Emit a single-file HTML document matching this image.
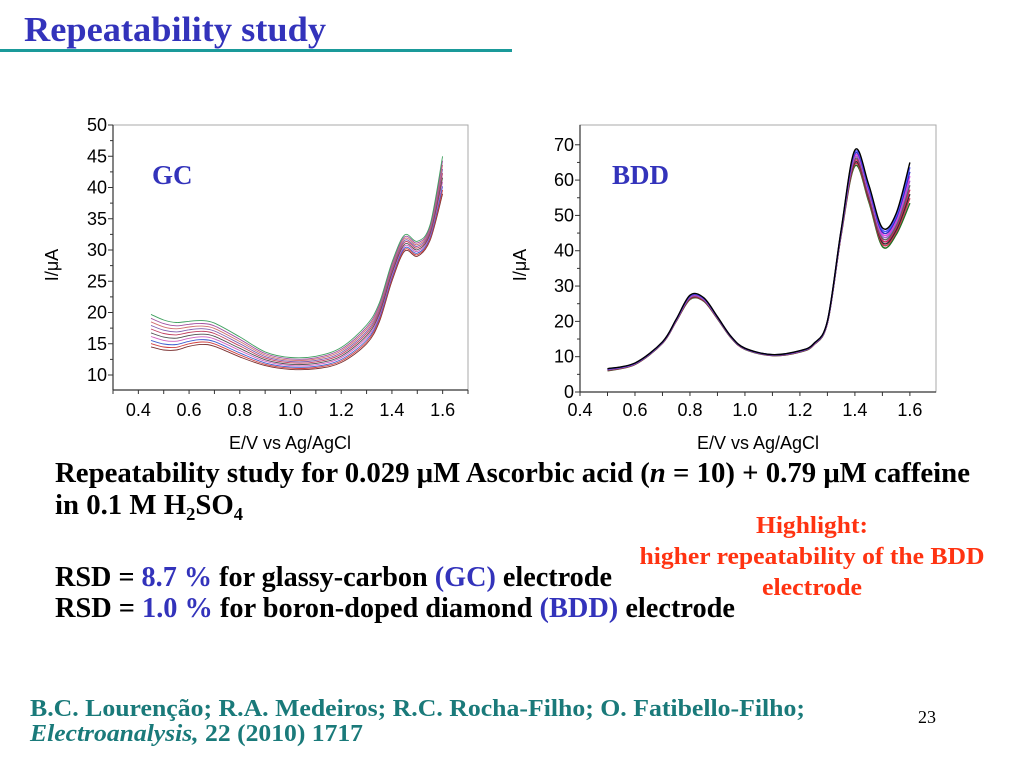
<!DOCTYPE html>
<html><head><meta charset="utf-8"><style>
html,body{margin:0;padding:0;background:#fff;width:1024px;height:768px;overflow:hidden}
svg{display:block}
.ser{font-family:"Liberation Serif",serif;font-weight:bold}
.sans{font-family:"Liberation Sans",sans-serif}
</style></head><body>
<svg id="slide" width="1024" height="768">
<text class="ser" x="24" y="41" font-size="35" fill="#3333bb" textLength="302" lengthAdjust="spacingAndGlyphs">Repeatability study</text>
<rect x="0" y="49" width="512" height="3" fill="#1a9a9a"/>

<g id="gc"></g>
<g id="bdd"></g>

<text class="ser" x="55" y="482" font-size="28" fill="#000" textLength="915" lengthAdjust="spacingAndGlyphs">Repeatability study for 0.029 μM Ascorbic acid (<tspan font-style="italic">n</tspan> = 10) + 0.79 μM caffeine</text>
<text class="ser" x="55" y="514" font-size="28" fill="#000" textLength="188" lengthAdjust="spacingAndGlyphs">in 0.1 M H<tspan font-size="18" dy="6">2</tspan><tspan dy="-6">SO</tspan><tspan font-size="18" dy="6">4</tspan></text>
<text class="ser" x="55" y="586" font-size="28" fill="#000" textLength="557" lengthAdjust="spacingAndGlyphs">RSD = <tspan fill="#3333bb">8.7 %</tspan> for glassy-carbon <tspan fill="#3333bb">(GC)</tspan> electrode</text>
<text class="ser" x="55" y="617" font-size="28" fill="#000" textLength="680" lengthAdjust="spacingAndGlyphs">RSD = <tspan fill="#3333bb">1.0 %</tspan> for boron-doped diamond <tspan fill="#3333bb">(BDD)</tspan> electrode</text>
<g class="ser" font-size="24" fill="#ff3311" text-anchor="middle">
<text x="812" y="533" textLength="112" lengthAdjust="spacingAndGlyphs">Highlight:</text>
<text x="812" y="564" textLength="345" lengthAdjust="spacingAndGlyphs">higher repeatability of the BDD</text>
<text x="812" y="595" textLength="100" lengthAdjust="spacingAndGlyphs">electrode</text>
</g>
<text class="ser" x="30" y="716" font-size="24" fill="#1a7a7a" textLength="775" lengthAdjust="spacingAndGlyphs">B.C. Lourenção; R.A. Medeiros; R.C. Rocha-Filho; O. Fatibello-Filho;</text>
<text class="ser" x="30" y="741" font-size="24" fill="#1a7a7a" textLength="333" lengthAdjust="spacingAndGlyphs"><tspan font-style="italic">Electroanalysis,</tspan> 22 (2010) 1717</text>
<text x="918" y="723" font-family="Liberation Serif,serif" font-size="18" fill="#000">23</text>
</svg>
<script>
// ---- GC data ----
const gcX = [0.45,0.5,0.55,0.6,0.65,0.7,0.8,0.9,1.0,1.1,1.2,1.3,1.35,1.4,1.45,1.5,1.55,1.6];
const gcBase = [14.5,14.0,14.0,14.6,14.9,14.6,12.9,11.5,10.9,11.0,12.0,15.0,18.5,25.0,29.8,29.0,31.5,39.0];
const gcSpread = [5.2,4.8,4.4,4.0,3.8,3.7,3.2,2.2,1.9,2.0,2.4,3.0,3.0,3.0,2.6,2.4,2.5,6.0];
const gcFrac = [0,0.1,0.2,0.32,0.43,0.55,0.66,0.77,0.88,1.0];
const gcYTicks = [10,15,20,25,30,35,40,45,50];
const xTicks = [0.4,0.6,0.8,1.0,1.2,1.4,1.6];
// ---- BDD data ----
const bddX = [0.5,0.6,0.7,0.75,0.8,0.85,0.9,0.95,1.0,1.1,1.2,1.25,1.3,1.35,1.4,1.45,1.5,1.55,1.6];
const bddBase = [6.0,7.8,13.8,20.0,26.2,25.7,20.7,15.3,12.1,10.3,11.3,13.3,19.5,44.5,64.0,54.0,41.2,44.5,53.5];
const bddSpread = [0.6,0.4,0.4,0.6,1.2,1.0,0.6,0.4,0.3,0.3,0.4,0.4,0.6,1.5,4.5,4.8,5.3,6.0,11.5];
const bddFrac = [0,0.12,0.22,0.33,0.44,0.55,0.66,0.77,0.88,1.0];
const bddYTicks = [0,10,20,30,40,50,60,70];
const colorsGC = ['#7a3030','#d04040','#4060d0','#d060c0','#505050','#c04060','#8060b0','#d07070','#a050a0','#40a060'];
const colorsBDD = ['#207020','#d03050','#303030','#d02060','#606060','#a060d0','#e040e0','#3030c0','#5050ff','#000000'];
const NS='http://www.w3.org/2000/svg';
function mk(tag,attrs,parent){const e=document.createElementNS(NS,tag);for(const k in attrs)e.setAttribute(k,attrs[k]);parent.appendChild(e);return e;}
function smooth(pts){let d='M'+pts[0][0].toFixed(1)+','+pts[0][1].toFixed(1);
 for(let i=0;i<pts.length-1;i++){const p0=pts[Math.max(0,i-1)],p1=pts[i],p2=pts[i+1],p3=pts[Math.min(pts.length-1,i+2)];
 d+=' C'+(p1[0]+(p2[0]-p0[0])/6).toFixed(1)+','+(p1[1]+(p2[1]-p0[1])/6).toFixed(1)+' '+(p2[0]-(p3[0]-p1[0])/6).toFixed(1)+','+(p2[1]-(p3[1]-p1[1])/6).toFixed(1)+' '+p2[0].toFixed(1)+','+p2[1].toFixed(1);}
 return d;}
function chart(g,cfg){
 const sx=v=>cfg.x0+(v-cfg.xmin)*(cfg.x1-cfg.x0)/(cfg.xmax-cfg.xmin);
 const sy=v=>cfg.y0-(v-cfg.ymin)*(cfg.y0-cfg.y1)/(cfg.ymax-cfg.ymin);
 let fr=mk('rect',{x:cfg.x0,y:cfg.y1,width:cfg.x1-cfg.x0,height:cfg.y0-cfg.y1,fill:'none',stroke:'#aaa','stroke-width':1},g);
 
 
 let ax=mk('line',{x1:cfg.x0,y1:cfg.y1,x2:cfg.x0,y2:cfg.y0,stroke:'#333','stroke-width':1.2},g);
 
 
 let bx=mk('line',{x1:cfg.x0,y1:cfg.y0,x2:cfg.x1,y2:cfg.y0,stroke:'#333','stroke-width':1.2},g);
 
 
 cfg.yt.forEach((v,i)=>{const y=sy(v);mk('line',{x1:cfg.x0-5,y1:y,x2:cfg.x0,y2:y,stroke:'#333'},g);
  if(i<cfg.yt.length-1){const ym=sy(v+(cfg.yt[1]-cfg.yt[0])/2);mk('line',{x1:cfg.x0-3,y1:ym,x2:cfg.x0,y2:ym,stroke:'#333'},g);}
  const t=mk('text',{x:cfg.x0-6,y:y+6,'text-anchor':'end','font-size':18,'class':'sans'},g);t.textContent=v;
  
  });
 for(let v=cfg.xmin;v<=cfg.xmax+1e-6;v+=0.1){const x=sx(v);mk('line',{x1:x,y1:cfg.y0,x2:x,y2:cfg.y0+4,stroke:'#333'},g);}
 xTicks.forEach(v=>{const t=mk('text',{x:sx(v),y:416,'text-anchor':'middle','font-size':18,'class':'sans'},g);t.textContent=v.toFixed(1);
  
  });
 const xt=mk('text',{x:cfg.xtx,y:449,'text-anchor':'middle','font-size':18,'class':'sans'},g);xt.textContent='E/V vs Ag/AgCl';
 
 
 const yt=mk('text',{x:0,y:0,'text-anchor':'middle','font-size':18,'class':'sans',transform:'translate('+cfg.ytx+','+cfg.yty+') rotate(-90)'},g);yt.textContent='I/μA';
 
 
 const lb=mk('text',{x:cfg.lx,y:184,'font-size':27,'class':'ser',fill:'#3333bb'},g);lb.textContent=cfg.label;
 
 
 cfg.frac.forEach((f,k)=>{const pts=cfg.xs.map((x,i)=>[sx(x),sy(cfg.base[i]+f*cfg.spread[i])]);
  const p=mk('path',{d:smooth(pts),fill:'none',stroke:cfg.colors[k],'stroke-width':cfg.sw},g);
  
  });
}
chart(document.getElementById('gc'),{x0:113,x1:468,y0:390,y1:125,xmin:0.3,xmax:1.7,ymin:7.6,ymax:50,yt:gcYTicks,xs:gcX,base:gcBase,spread:gcSpread,frac:gcFrac,colors:colorsGC,sw:0.9,xtx:290,ytx:58,yty:265,label:'GC',lx:152});
chart(document.getElementById('bdd'),{x0:580,x1:936,y0:392,y1:125,xmin:0.4,xmax:1.695,ymin:0,ymax:75.6,yt:bddYTicks,xs:bddX,base:bddBase,spread:bddSpread,frac:bddFrac,colors:colorsBDD,sw:1.4,xtx:758,ytx:526,yty:265,label:'BDD',lx:612});
</script>
</body></html>
